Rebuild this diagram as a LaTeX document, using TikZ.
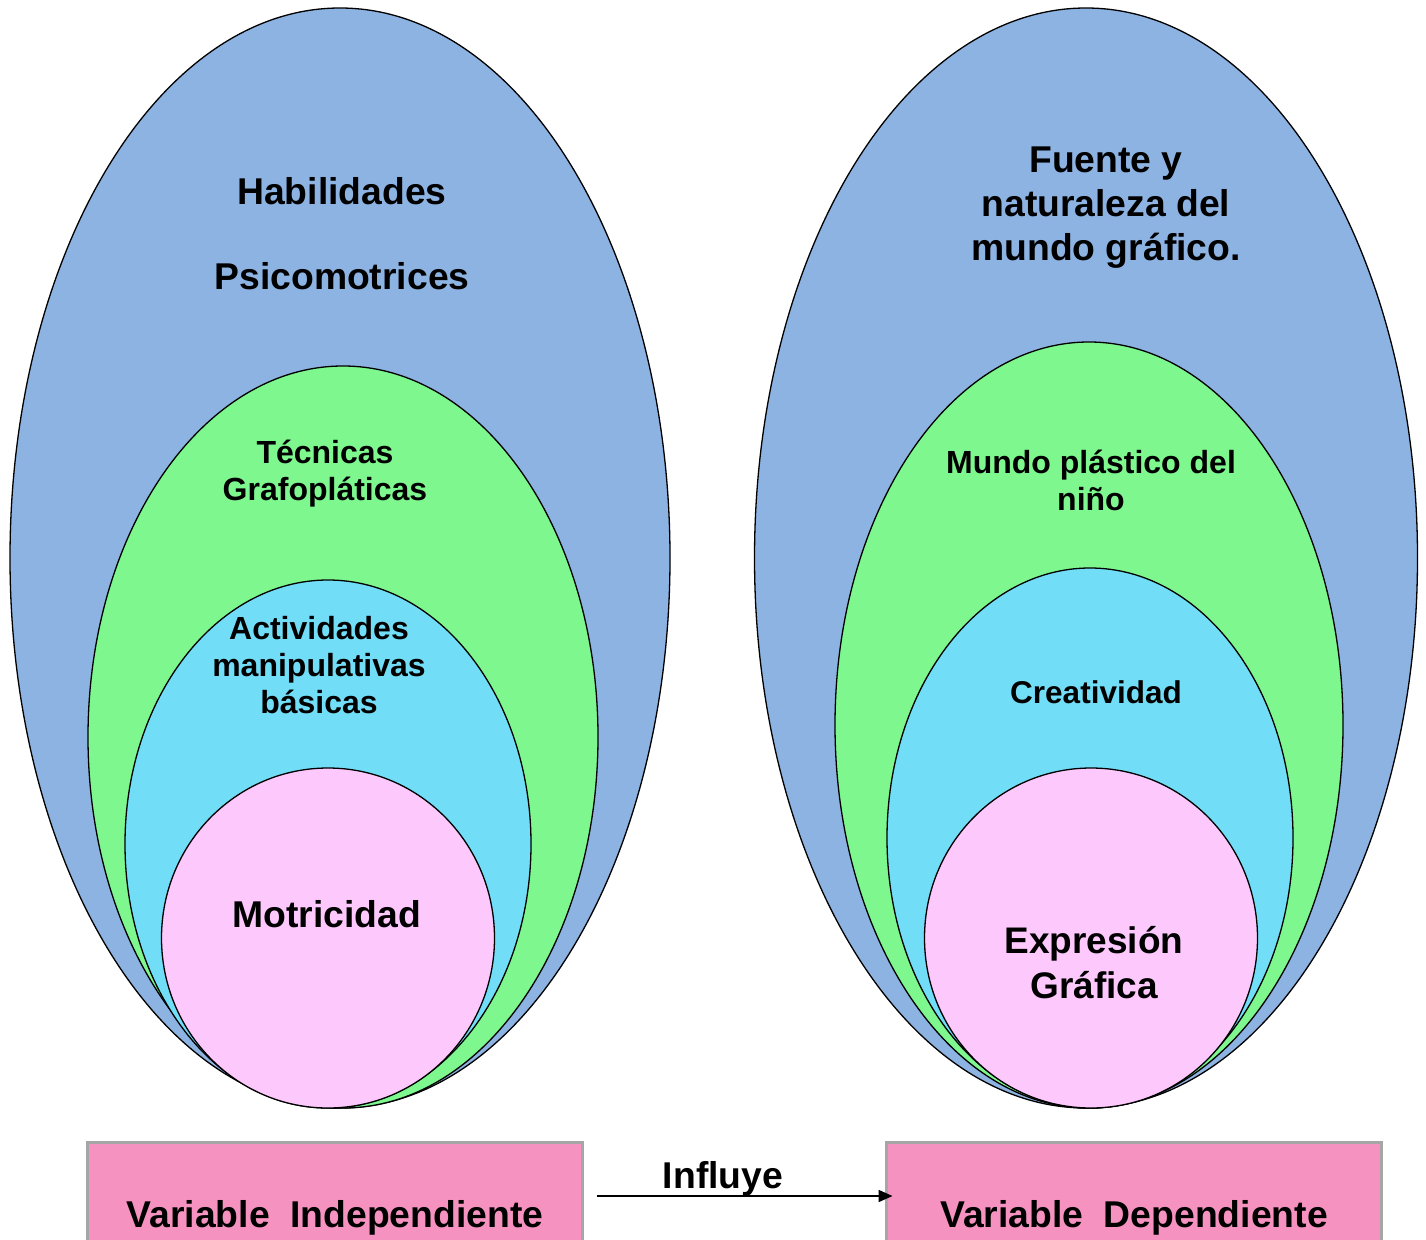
\documentclass[tikz,border=0pt]{standalone}
\usepackage{fontspec}
\setmainfont{Liberation Sans}
\usetikzlibrary{shapes.geometric,arrows.meta}
\definecolor{outerblue}{HTML}{8DB3E2}
\definecolor{midgreen}{HTML}{7DF78E}
\definecolor{innercyan}{HTML}{72DDF7}
\definecolor{corepink}{HTML}{FDC9FD}
\definecolor{boxpink}{HTML}{F692C0}
\definecolor{boxgray}{HTML}{A6A6A6}
\tikzset{
  oval/.style={ellipse, draw=black, line width=1.3pt, inner sep=0pt},
  lbl/.style={font=\bfseries, align=center, inner sep=0pt, anchor=base},
  varbox/.style={rectangle, draw=boxgray, line width=3pt, fill=boxpink,
    minimum width=495pt, minimum height=108pt, inner sep=0pt},
  arr/.style={-{Triangle[length=14pt,width=12pt]}, line width=1.8pt}
}
\newcommand{\bigsz}{\fontsize{37.3}{44}\selectfont}
\newcommand{\midsz}{\fontsize{32}{37}\selectfont}
\begin{document}
\begin{tikzpicture}[x=1pt,y=-1pt]
  \useasboundingbox (0,0) rectangle (1426,1239);
  \clip (0,0) rectangle (1426,1239);

  \node (hab) [oval, fill=outerblue, minimum width=660pt, minimum height=1100pt] at (340,558) {};
  \node (tec) [oval, fill=midgreen,  minimum width=510pt, minimum height=742pt]  at (343,737) {};
  \node (act) [oval, fill=innercyan, minimum width=406pt, minimum height=528pt]  at (328,844) {};
  \node (mot) [oval, fill=corepink,  minimum width=333pt, minimum height=340pt]  at (328,938) {};

  \node (fue) [oval, fill=outerblue, minimum width=663pt, minimum height=1100pt] at (1086,558) {};
  \node (mun) [oval, fill=midgreen,  minimum width=508pt, minimum height=766pt]  at (1089,725) {};
  \node (cre) [oval, fill=innercyan, minimum width=406pt, minimum height=540pt]  at (1090,838) {};
  \node (exp) [oval, fill=corepink,  minimum width=333pt, minimum height=340pt]  at (1091,938) {};

  \node (habtxt) [lbl, font=\bfseries\bigsz] at (342,289) {Habilidades\\[41pt]Psicomotrices};
  \node (tectxt) [lbl, font=\bfseries\midsz] at (325,500) {Técnicas\\Grafopláticas};
  \node (acttxt) [lbl, font=\bfseries\midsz] at (319,713) {Actividades\\manipulativas\\básicas};
  \node (mottxt) [lbl, font=\bfseries\bigsz] at (327,927) {Motricidad};

  \node (fuetxt) [lbl, font=\bfseries\bigsz] at (1106,260) {Fuente y\\naturaleza del\\mundo gráfico.};
  \node (muntxt) [lbl, font=\bfseries\fontsize{32}{37}\selectfont] at (1091,510) {Mundo plástico del\\niño};
  \node (cretxt) [lbl, font=\bfseries\fontsize{31.5}{37}\selectfont] at (1096,703) {Creatividad};
  \node (exptxt) [lbl, font=\bfseries\fontsize{37}{45}\selectfont] at (1094,998) {Expresión\\Gráfica};

  \node (vi) [varbox] at (334.5,1196) {};
  \node (vd) [varbox] at (1133.5,1196) {};
  \node (vitxt) [lbl, font=\bfseries\bigsz] at (335,1227) {Variable\ \ Independiente};
  \node (vdtxt) [lbl, font=\bfseries\bigsz] at (1134,1227) {Variable\ \ Dependiente};

  \draw [arr, shorten <=13pt, shorten >=-8pt] (vi) to node (inf) [lbl, font=\bfseries\bigsz, anchor=base, yshift=8pt, xshift=-11pt] {Influye} (vd);
\end{tikzpicture}
\end{document}
